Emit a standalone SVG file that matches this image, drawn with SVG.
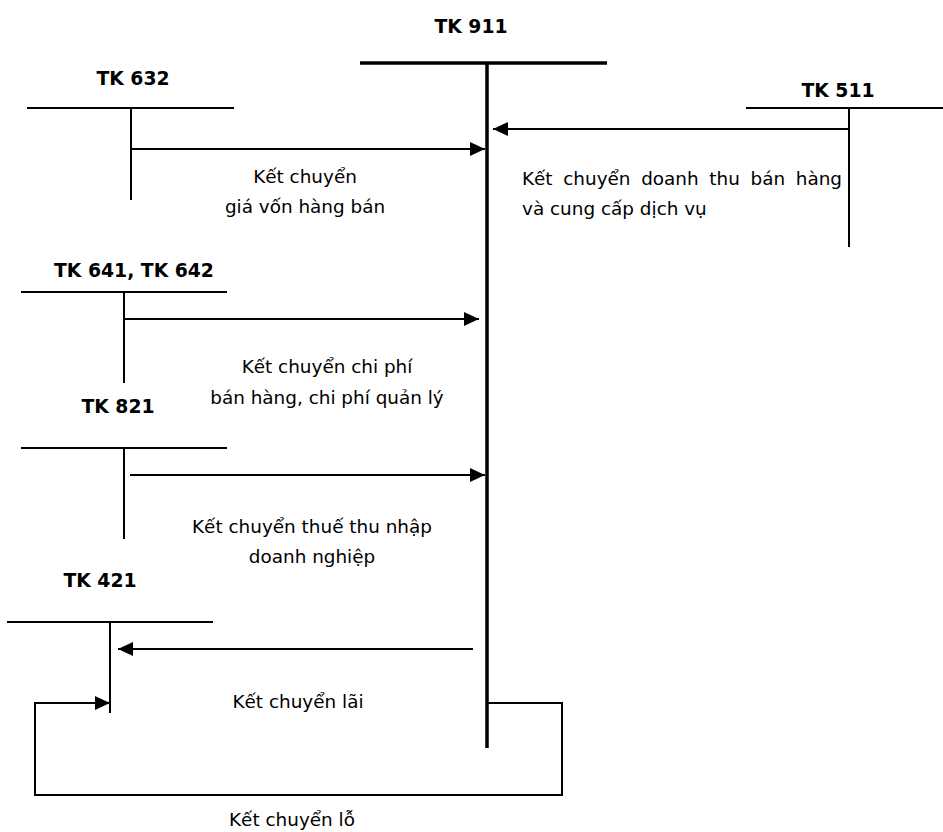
<svg xmlns="http://www.w3.org/2000/svg" width="943" height="832" viewBox="0 0 943 832">
<style>
.bg{fill:#ffffff}
.t{stroke:#000;stroke-width:2;fill:none}
.thick{stroke:#000;stroke-width:3.5;fill:none}
.lbl{font-family:"DejaVu Sans","Verdana",sans-serif;font-size:18.8px;font-weight:bold;fill:#000;text-anchor:middle}
.txt{font-family:"DejaVu Sans","Verdana",sans-serif;font-size:18.4px;fill:#000}
.c{text-anchor:middle}
.arrow{stroke:#000;stroke-width:2;fill:none;marker-end:url(#ah)}
</style>
<defs>
<marker id="ah" markerUnits="userSpaceOnUse" markerWidth="16" markerHeight="14" refX="15" refY="7" orient="auto">
<path d="M0,0 L15,7 L0,14 Z" fill="#000"/>
</marker>
</defs>
<rect class="bg" x="0" y="0" width="943" height="832"/>

<g id="tk911">
<text class="lbl" x="471" y="33">TK 911</text>
<line class="thick" x1="360" y1="63" x2="607" y2="63"/>
<line class="thick" x1="487" y1="63" x2="487" y2="748"/>
</g>

<g id="tk632">
<text class="lbl" x="133" y="85">TK 632</text>
<line class="t" x1="27" y1="108" x2="234" y2="108"/>
<line class="t" x1="131" y1="108" x2="131" y2="200"/>
</g>

<g id="tk511">
<text class="lbl" x="838" y="97">TK 511</text>
<line class="t" x1="746" y1="108" x2="943" y2="108"/>
<line class="t" x1="849" y1="108" x2="849" y2="247"/>
</g>

<g id="tk641">
<text class="lbl" x="134" y="277">TK 641, TK 642</text>
<line class="t" x1="21" y1="292" x2="227" y2="292"/>
<line class="t" x1="124" y1="292" x2="124" y2="383"/>
</g>

<g id="tk821">
<text class="lbl" x="118" y="413">TK 821</text>
<line class="t" x1="21" y1="448" x2="227" y2="448"/>
<line class="t" x1="124" y1="448" x2="124" y2="539"/>
</g>

<g id="tk421">
<text class="lbl" x="100" y="587">TK 421</text>
<line class="t" x1="7" y1="622" x2="213" y2="622"/>
<line class="t" x1="110" y1="622" x2="110" y2="713"/>
</g>

<g id="connectors">
<line class="arrow" x1="131" y1="149" x2="485" y2="149"/>
<line class="arrow" x1="849" y1="129" x2="493" y2="129"/>
<line class="arrow" x1="124" y1="319" x2="479" y2="319"/>
<line class="arrow" x1="130" y1="475" x2="485" y2="475"/>
<line class="arrow" x1="473" y1="649" x2="118" y2="649"/>
<polyline class="arrow" points="487,703 562,703 562,795 35,795 35,703 110,703"/>
</g>

<g id="labels">
<text class="txt c" x="305" y="183">Kết chuyển</text>
<text class="txt c" x="305" y="213">giá vốn hàng bán</text>
<text class="txt" x="522" y="185" word-spacing="4.8">Kết chuyển doanh thu bán hàng</text>
<text class="txt" x="522" y="215">và cung cấp dịch vụ</text>
<text class="txt c" x="327" y="373">Kết chuyển chi phí</text>
<text class="txt c" x="327" y="404">bán hàng, chi phí quản lý</text>
<text class="txt c" x="312" y="533">Kết chuyển thuế thu nhập</text>
<text class="txt c" x="312" y="563">doanh nghiệp</text>
<text class="txt c" x="298" y="708">Kết chuyển lãi</text>
<text class="txt c" x="292" y="826">Kết chuyển lỗ</text>
</g>
</svg>
